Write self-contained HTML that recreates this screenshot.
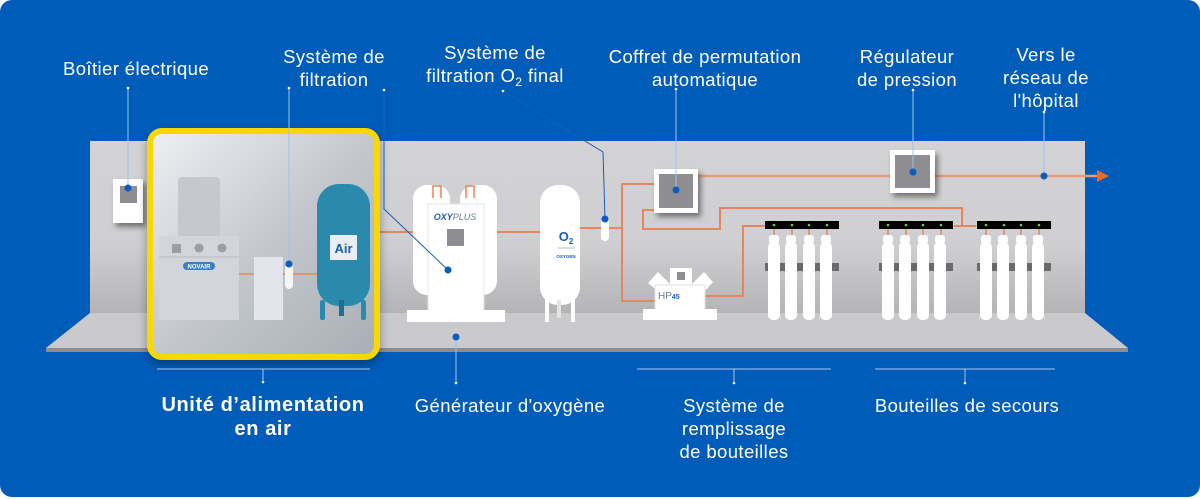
<!DOCTYPE html>
<html><head><meta charset="utf-8"><style>
html,body{margin:0;padding:0;background:#fff;}
svg{display:block;font-family:"Liberation Sans",sans-serif;}
</style></head><body>
<svg width="1200" height="499" viewBox="0 0 1200 499" xmlns="http://www.w3.org/2000/svg">
<defs>
<linearGradient id="wall" x1="0" y1="0" x2="0" y2="1"><stop offset="0" stop-color="#d3d3d5"/><stop offset="0.6" stop-color="#cfcfd1"/><stop offset="1" stop-color="#b4b4b6"/></linearGradient>
<linearGradient id="inner" x1="0" y1="0" x2="1" y2="1"><stop offset="0" stop-color="#eef0f3"/><stop offset="0.5" stop-color="#c4c8ce"/><stop offset="1" stop-color="#a9aeb5"/></linearGradient>
<filter id="sh" x="-30%" y="-30%" width="170%" height="170%"><feDropShadow dx="3" dy="4" stdDeviation="3" flood-color="#000" flood-opacity="0.45"/></filter>
<filter id="sh2" x="-20%" y="-20%" width="140%" height="140%"><feDropShadow dx="0" dy="4" stdDeviation="5" flood-color="#000" flood-opacity="0.35"/></filter>
</defs>
<rect x="0" y="0" width="1200" height="497" rx="12" fill="#005cb9"/>
<rect x="90" y="141" width="995" height="173" fill="url(#wall)"/>
<polygon points="90,313 1085,313 1128,348 46,348" fill="#cacacc"/>
<rect x="46" y="348" width="1082" height="4" fill="#8e8e90"/>

<g fill="none" stroke="#e8855a" stroke-width="2">
<line x1="380" y1="232" x2="540" y2="232"/>
<line x1="580" y1="228" x2="622" y2="228"/>
<polyline points="654,184 622,184 622,301 655,301"/>
<polyline points="654,210 643,210 643,229 720,229 720,208 962,208 962,226 976,226"/>
<polyline points="705,296 743,296 743,226 765,226"/>
<line x1="954" y1="226" x2="976" y2="226"/>
</g>
<g stroke="#eb9a78" stroke-width="2.5">
<line x1="698" y1="176" x2="890" y2="176"/>
<line x1="935" y1="176" x2="1097" y2="176"/>
</g>
<polygon points="1097,170 1109,176 1097,182" fill="#f06a20"/>

<rect x="113" y="179" width="30" height="44" fill="#fff" filter="url(#sh)"/>
<rect x="120" y="186" width="17" height="17" fill="#8e8e92"/>

<rect x="150" y="131" width="227" height="226" rx="12" fill="url(#inner)" stroke="#f8d800" stroke-width="6" filter="url(#sh2)"/>
<rect x="178" y="177" width="42" height="64" rx="4" fill="#c5c8cd"/>
<rect x="159" y="236" width="80" height="84" fill="#d2d6dc"/>
<line x1="159" y1="257" x2="239" y2="257" stroke="#b8bcc2"/>
<rect x="172" y="244" width="9" height="9" fill="#9a9ea5"/>
<circle cx="199" cy="248" r="4.5" fill="#9a9ea5"/><circle cx="222" cy="248" r="4.5" fill="#9a9ea5"/>
<rect x="183" y="262" width="32" height="8" rx="4" fill="#3a7fc4"/>
<text x="199" y="268.5" font-size="6" fill="#fff" text-anchor="middle" font-weight="bold">NOVAIR</text>
<line x1="239" y1="274" x2="317" y2="274" stroke="#e8855a" stroke-width="1.5"/>
<rect x="254" y="257" width="29" height="63" fill="#e2e6ec"/>
<rect x="285" y="264" width="8" height="25" rx="4" fill="#f4f5f7"/>
<rect x="317" y="184" width="53" height="122" rx="22" fill="#2a8aab"/>
<rect x="320" y="300" width="5" height="20" rx="2" fill="#2a8aab"/><rect x="339" y="300" width="5" height="16" fill="#236f8a"/><rect x="361" y="300" width="5" height="20" rx="2" fill="#2a8aab"/>
<rect x="330" y="235" width="27" height="25" rx="1" fill="#e8eef3"/>
<text x="343.5" y="253" font-size="13" font-weight="bold" fill="#1a5fb4" text-anchor="middle">Air</text>

<rect x="413" y="185" width="37" height="110" rx="14" fill="#fff"/>
<rect x="460" y="185" width="37" height="110" rx="14" fill="#fff"/>
<path d="M433,198 v-12 h8 v12 M466,198 v-12 h8 v12" fill="none" stroke="#e8855a" stroke-width="1.5"/>
<rect x="428" y="204" width="56" height="110" fill="#fff" stroke="#e4e4e6"/>
<rect x="407" y="310" width="98" height="12" fill="#fff"/>
<text x="455" y="220" font-size="9" font-style="italic" font-weight="bold" fill="#1a5fb4" text-anchor="middle">OXY<tspan font-weight="normal" fill="#6a7a90">PLUS</tspan></text>
<rect x="447" y="229" width="17" height="17" fill="#8e8e92"/>

<rect x="540" y="185" width="40" height="120" rx="18" fill="#fff"/>
<rect x="545" y="300" width="4" height="22" fill="#fff"/><rect x="571" y="300" width="4" height="22" fill="#fff"/><rect x="557" y="300" width="4" height="18" fill="#e4e4e6"/>
<text x="566" y="241" font-size="13" font-weight="bold" fill="#1a5fb4" text-anchor="middle">O<tspan font-size="8" dy="3">2</tspan></text>
<line x1="558" y1="248" x2="575" y2="248" stroke="#9ab" stroke-width="0.7"/>
<text x="566" y="258" font-size="4.5" fill="#1a5fb4" text-anchor="middle" font-weight="bold">OXYGEN</text>
<rect x="601" y="218" width="8" height="23" rx="4" fill="#fff"/>

<rect x="654" y="169" width="44" height="44" fill="#fff" filter="url(#sh)"/>
<rect x="659" y="174" width="34" height="34" fill="#8e8e92"/>
<rect x="890" y="150" width="45" height="43" fill="#fff" filter="url(#sh)"/>
<rect x="895" y="155" width="35" height="33" fill="#8e8e92"/>

<polygon points="648,283 658,272 670,284 660,293" fill="#fff"/>
<polygon points="692,284 704,272 713,282 703,293" fill="#fff"/>
<rect x="670" y="268" width="22" height="18" fill="#fff"/>
<rect x="677" y="272" width="8" height="8" fill="#8e8e92"/>
<rect x="655" y="285" width="50" height="27" fill="#fff" stroke="#e0e0e2"/>
<rect x="643" y="309" width="74" height="11" fill="#fff"/>
<text x="658" y="299" font-size="10" fill="#6b7a8c">HP<tspan font-size="7" font-weight="bold" fill="#1a5fb4">45</tspan></text>

<g id="cyl">
<rect x="765" y="221" width="74" height="8" fill="#000"/>
<g fill="#6fcf3f"><circle cx="774" cy="225" r="1.3"/><circle cx="792" cy="225" r="1.3"/><circle cx="809" cy="225" r="1.3"/><circle cx="827" cy="225" r="1.3"/></g>
<g stroke="#e8855a" stroke-width="1.5"><line x1="774" y1="229" x2="774" y2="237"/><line x1="792" y1="229" x2="792" y2="237"/><line x1="809" y1="229" x2="809" y2="237"/><line x1="827" y1="229" x2="827" y2="237"/></g>
<rect x="765" y="263" width="74" height="8" fill="#6a6a6c"/>
<g fill="#fff">
<rect x="769" y="235" width="10" height="9" rx="3"/><rect x="768" y="242" width="12" height="78" rx="5"/>
<rect x="786" y="235" width="10" height="9" rx="3"/><rect x="785" y="242" width="12" height="78" rx="5"/>
<rect x="804" y="235" width="10" height="9" rx="3"/><rect x="803" y="242" width="12" height="78" rx="5"/>
<rect x="821" y="235" width="10" height="9" rx="3"/><rect x="820" y="242" width="12" height="78" rx="5"/>
</g>
</g>
<use href="#cyl" x="114"/>
<use href="#cyl" x="212"/>

<g stroke="#1a6fd0" stroke-width="1" fill="none">
<polyline points="128,88 128,188" stroke="#9cc3ee"/>
<polyline points="289,88 289,264" stroke="#9cc3ee"/>
<polyline points="384,88 384,209 448,270" stroke="#1a5fb4"/>
<polyline points="503,91 603,152 605,219" stroke="#1a5fb4"/>
<polyline points="676,88 676,190" stroke="#9cc3ee"/>
<polyline points="913,90 913,172" stroke="#9cc3ee"/>
<polyline points="1044,112 1044,176" stroke="#9cc3ee"/>
<polyline points="456,337 456,383" stroke="#9cc3ee"/>
</g>
<g fill="#0b5cc0">
<circle cx="128" cy="188" r="3.5"/><circle cx="289" cy="264" r="3.5"/><circle cx="448" cy="270" r="3.5"/><circle cx="605" cy="219" r="3.5"/><circle cx="676" cy="190" r="3.5"/><circle cx="913" cy="172" r="3.5"/><circle cx="1044" cy="176" r="3.5"/><circle cx="456" cy="337" r="3.5"/>
</g>
<g fill="#fff"><circle cx="128" cy="88" r="1.3"/><circle cx="289" cy="88" r="1.3"/><circle cx="384" cy="90" r="1.3"/><circle cx="503" cy="91" r="1.3"/><circle cx="676" cy="89" r="1.3"/><circle cx="913" cy="90" r="1.3"/><circle cx="1044" cy="112" r="1.3"/><circle cx="456" cy="383" r="1.3"/><circle cx="263" cy="382" r="1.3"/><circle cx="734" cy="383" r="1.3"/><circle cx="965" cy="383" r="1.3"/></g>
<g stroke="#a9c9f0" stroke-width="1">
<line x1="157" y1="369" x2="370" y2="369"/><line x1="263" y1="369" x2="263" y2="382"/>
<line x1="637" y1="369" x2="831" y2="369"/><line x1="734" y1="369" x2="734" y2="383"/>
<line x1="875" y1="369" x2="1055" y2="369"/><line x1="965" y1="369" x2="965" y2="383"/>
</g>

<g fill="#fff" font-size="18.5" letter-spacing="0.4" text-anchor="middle">
<text x="136" y="75">Boîtier électrique</text>
<text x="334" y="63">Système de</text><text x="334" y="86">filtration</text>
<text x="495" y="59">Système de</text><text x="495" y="82">filtration O<tspan font-size="12" dy="4">2</tspan><tspan dy="-4"> final</tspan></text>
<text x="705" y="63">Coffret de permutation</text><text x="705" y="86">automatique</text>
<text x="907" y="63">Régulateur</text><text x="907" y="86">de pression</text>
<text x="1046" y="61">Vers le</text><text x="1046" y="84">réseau de</text><text x="1046" y="107">l'hôpital</text>
<text x="263" y="411" font-weight="bold" font-size="20" letter-spacing="0.6">Unité d’alimentation</text><text x="263" y="435" font-weight="bold" font-size="20" letter-spacing="0.6">en air</text>
<text x="510" y="412">Générateur d'oxygène</text>
<text x="734" y="412">Système de</text><text x="734" y="435">remplissage</text><text x="734" y="458">de bouteilles</text>
<text x="967" y="412">Bouteilles de secours</text>
</g>
</svg>
</body></html>
